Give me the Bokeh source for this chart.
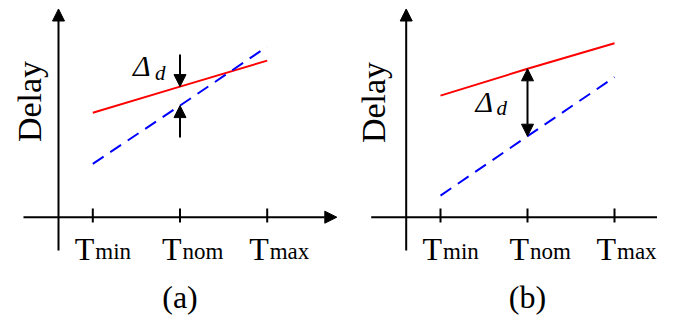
import math
from bokeh.plotting import figure
from bokeh.layouts import row
from bokeh.models import Arrow, NormalHead, Range1d
from bokeh.core.properties import value
from bokeh.embed import file_html
from bokeh.resources import INLINE

# ---------------- data ----------------
temp_labels = ["min", "nom", "max"]      # subscripts of T
temp_pos = [0, 1, 2]                      # Tmin, Tnom, Tmax
red_a = [5.22, 6.53, 7.83]                # panel (a), solid red
blue_a = [2.67, 5.58, 8.53]               # panel (a), dashed blue
red_b = [6.08, 7.42, 8.70]                # panel (b), solid red
blue_b = [1.08, 4.05, 7.00]               # panel (b), dashed blue
panel_labels = ["(a)", "(b)"]
y_title = "Delay"
delta_main = "Δ"
delta_sub = "d"

# ---------------- layout constants ----------------
FONT = value("Liberation Serif")
FIG_H = 319
AXIS_Y = 216.7          # pixel y of delay = 0
UY = 20.0               # px per delay unit
K = 0.27                # text baseline correction (em)


def make_panel(red, blue, label, left, width, tmin_px, ux, mode, title_base, title_cy,
               dl_dx, dl_base, ds_dx, ds_base):
    x0 = (left - tmin_px) / ux
    x1 = (left + width - tmin_px) / ux
    y0 = (AXIS_Y - FIG_H) / UY
    y1 = AXIS_Y / UY
    p = figure(width=width, height=FIG_H, output_backend="svg", toolbar_location=None,
               x_range=Range1d(x0, x1), y_range=Range1d(y0, y1),
               x_axis_location=None, y_axis_location=None, min_border=0)
    p.grid.visible = False
    p.outline_line_color = None
    p.background_fill_color = "white"
    p.border_fill_color = "white"

    def X(px):
        return px / ux

    def Y(py):
        return (AXIS_Y - py) / UY

    def TY(base, fs):
        return Y(base - K * fs)

    # axes as arrows
    p.add_layout(Arrow(end=NormalHead(size=12, fill_color="black", line_color="black", line_width=1),
                       x_start=X(-34.3), y_start=Y(250), x_end=X(-34.3), y_end=Y(8.5),
                       line_width=2, line_color="black"))
    p.add_layout(Arrow(end=NormalHead(size=12, fill_color="black", line_color="black", line_width=1),
                       x_start=X(-69.3), y_start=0, x_end=X(244), y_end=0,
                       line_width=2, line_color="black"))
    # ticks
    p.segment(x0=temp_pos, y0=[Y(222)] * 3, x1=temp_pos, y1=[Y(208)] * 3,
              line_color="black", line_width=2)
    # tick labels
    p.text(x=temp_pos, y=[TY(257.5, 32)] * 3, text=["T"] * 3, text_align="right",
           text_baseline="alphabetic", x_offset=1.5, text_font=FONT,
           text_font_size="32px", text_color="black")
    p.text(x=temp_pos, y=[TY(257.5, 23)] * 3, text=temp_labels, text_align="left",
           text_baseline="alphabetic", x_offset=2.5, text_font=FONT,
           text_font_size="23px", text_color="black")
    # y title (rotated: baseline correction acts along x)
    p.text(x=[X(title_base - K * 34 - tmin_px)], y=[Y(title_cy)], text=[y_title],
           angle=math.pi / 2, text_align="center", text_baseline="alphabetic",
           text_font=FONT, text_font_size="34px", text_color="black")
    # series
    p.line(temp_pos, red, line_color="#ff0000", line_width=2)
    p.line(temp_pos, blue, line_color="#0000ff", line_width=2, line_dash="13 8")

    # delta arrows
    head = dict(size=12, fill_color="black", line_color="black", line_width=1)
    if mode == "a":
        p.add_layout(Arrow(end=NormalHead(**head), x_start=1, y_start=Y(54),
                           x_end=1, y_end=red[1], line_width=2, line_color="black"))
        p.add_layout(Arrow(end=NormalHead(**head), x_start=1, y_start=Y(137),
                           x_end=1, y_end=blue[1], line_width=2, line_color="black"))
    else:
        p.add_layout(Arrow(start=NormalHead(**head), end=NormalHead(**head),
                           x_start=1, y_start=red[1], x_end=1, y_end=blue[1],
                           line_width=2, line_color="black"))
    # delta label
    p.text(x=[1], y=[TY(dl_base, 30)], text=[delta_main], x_offset=dl_dx, text_align="left",
           text_baseline="alphabetic", text_font=FONT, text_font_style="italic",
           text_font_size="30px", text_color="black")
    p.text(x=[1], y=[TY(ds_base, 21)], text=[delta_sub], x_offset=ds_dx, text_align="left",
           text_baseline="alphabetic", text_font=FONT, text_font_style="italic",
           text_font_size="21px", text_color="black")
    # panel label
    p.text(x=[1], y=[TY(305, 32)], text=[label], text_align="center",
           text_baseline="alphabetic", text_font=FONT, text_font_size="32px",
           text_color="black")
    return p


pa = make_panel(red_a, blue_a, panel_labels[0], left=0, width=345, tmin_px=92.3, ux=87.2,
                mode="a", title_base=38, title_cy=101,
                dl_dx=-47, dl_base=73, ds_dx=-25, ds_base=78)
pb = make_panel(red_b, blue_b, panel_labels[1], left=345, width=312, tmin_px=440.0, ux=87.0,
                mode="b", title_base=382, title_cy=102,
                dl_dx=-52, dl_base=109, ds_dx=-31, ds_base=113)

layout = row(pa, pb, spacing=0)
open("out.html", "w").write(file_html(layout, INLINE))
